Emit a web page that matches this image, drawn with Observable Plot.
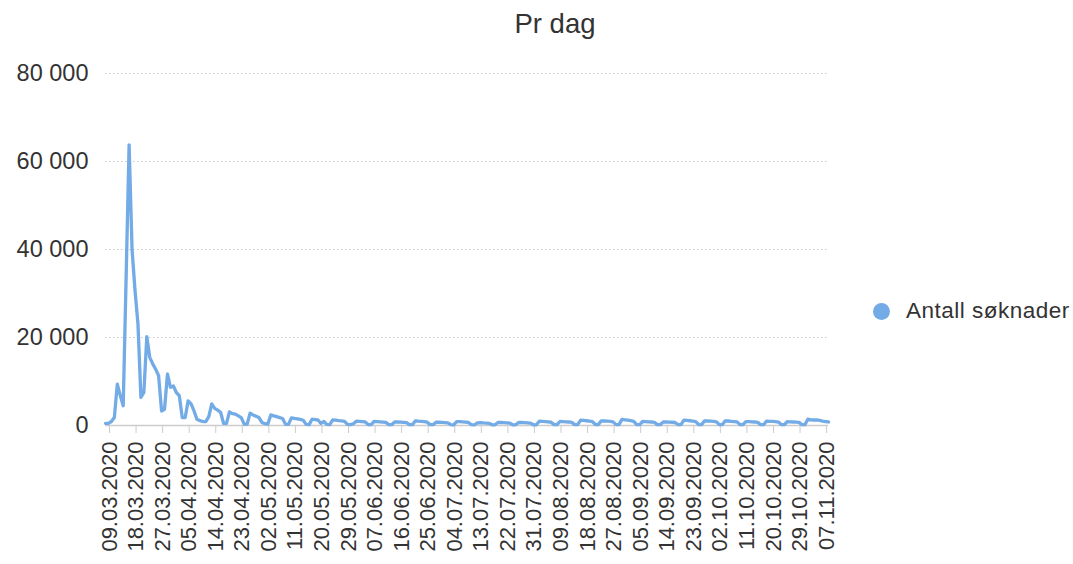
<!DOCTYPE html>
<html>
<head>
<meta charset="utf-8">
<script src="https://cdn.jsdelivr.net/npm/d3@7"></script>
<script src="https://cdn.jsdelivr.net/npm/@observablehq/plot@0.6"></script>
<style>
  html, body { margin: 0; padding: 0; background: #fff; }
  #wrap { position: relative; width: 1073px; height: 564px; font-family: "Liberation Sans", Arial, sans-serif; color: #333; }
  #title { position: absolute; top: 8px; left: 555px; transform: translateX(-50%); font-size: 27.5px; color: #333; white-space: nowrap; }
  #legend { position: absolute; left: 873px; top: 298px; display: flex; align-items: center; font-size: 22.5px; letter-spacing: 0.5px; color: #333; white-space: nowrap; }
  #legend .dot { width: 17px; height: 17px; border-radius: 50%; margin-right: 16px; }
  #chart { position: absolute; left: 0; top: 0; }
</style>
</head>
<body>
<div id="wrap">
  <div id="chart"></div>
  <div id="title"></div>
  <div id="legend"></div>
</div>
<script>
const titleText = "Pr dag";
const seriesName = "Antall søknader";
const seriesColor = "#72abe6";
const startDate = "09.03.2020";

// daily values from 09.03.2020
const values = [
  500, 500, 900, 1800, 9400, 6800, 4500,
  34000, 63800, 40000, 30700, 23100, 6400, 7500,
  20200, 15500, 14000, 12800, 11300, 3300, 3700,
  11700, 8700, 9000, 7500, 6800, 1800, 1800,
  5600, 4900, 3300, 1400, 1100, 900, 900,
  2000, 4900, 3900, 3500, 3000, 500, 500,
  3100, 2700, 2600, 2200, 1800, 300, 300,
  2800, 2400, 2100, 1800, 700, 400, 300,
  2400, 2200, 2000, 1800, 1600, 300, 250,
  1740, 1600, 1500, 1400, 1200, 250, 200,
  1440, 1350, 1250, 500, 900, 250, 200,
  1290, 1200, 1100, 1050, 950, 250, 200,
  400, 985, 950, 880, 800, 220, 200,
  910, 880, 840, 780, 700, 200, 180,
  830, 800, 780, 720, 650, 200, 180,
  1060, 980, 920, 860, 760, 200, 180,
  760, 740, 700, 660, 600, 180, 160,
  900, 860, 820, 760, 680, 180, 160,
  600, 620, 580, 560, 500, 160, 150,
  700, 680, 640, 600, 540, 170, 150,
  700, 680, 650, 600, 540, 170, 150,
  985, 940, 880, 820, 740, 200, 180,
  910, 880, 840, 800, 720, 200, 180,
  1210, 1150, 1080, 1000, 900, 220, 200,
  1060, 1020, 980, 920, 820, 200, 180,
  1400, 1300, 1200, 1100, 950, 220, 200,
  910, 880, 840, 800, 720, 200, 180,
  830, 800, 780, 740, 680, 200, 180,
  1210, 1150, 1080, 1000, 900, 220, 200,
  1060, 1020, 980, 920, 840, 200, 180,
  1060, 1020, 960, 900, 820, 200, 180,
  900, 880, 840, 800, 720, 200, 180,
  1000, 960, 920, 860, 780, 200, 180,
  850, 830, 800, 760, 700, 200, 180,
  1440, 1300, 1250, 1300, 1150, 1000, 900, 800
];

const xTickLabels = [
  "09.03.2020", "18.03.2020", "27.03.2020", "05.04.2020", "14.04.2020", "23.04.2020",
  "02.05.2020", "11.05.2020", "20.05.2020", "29.05.2020", "07.06.2020", "16.06.2020",
  "25.06.2020", "04.07.2020", "13.07.2020", "22.07.2020", "31.07.2020", "09.08.2020",
  "18.08.2020", "27.08.2020", "05.09.2020", "14.09.2020", "23.09.2020", "02.10.2020",
  "11.10.2020", "20.10.2020", "29.10.2020", "07.11.2020"
];
const yTicks = [0, 20000, 40000, 60000, 80000];

const parse = d3.utcParse("%d.%m.%Y");
const fmt = d3.utcFormat("%d.%m.%Y");
const start = parse(startDate);
const data = values.map((v, i) => ({date: d3.utcDay.offset(start, i), value: v}));
const xTicks = xTickLabels.map(parse);
const yFmt = d => d3.format(",")(d).replace(/,/g, " ");

const chart = Plot.plot({
  width: 1073,
  height: 564,
  marginLeft: 105,
  marginRight: 245,
  marginTop: 73,
  marginBottom: 139,
  style: {fontFamily: '"Liberation Sans", Arial, sans-serif', color: "#333", background: "transparent"},
  x: {type: "utc", domain: [data[0].date, data[data.length - 1].date]},
  y: {domain: [0, 80000]},
  marks: [
    Plot.gridY(yTicks.filter(d => d > 0), {stroke: "#c8c8c8", strokeOpacity: 1, strokeDasharray: "1.5,2.5", strokeWidth: 1}),
    Plot.axisY({ticks: yTicks, tickFormat: yFmt, tickSize: 0, tickPadding: 17, fontSize: 23.5, label: null, fill: "#333"}),
    Plot.ruleY([0], {stroke: "#cccccc", strokeWidth: 1.5}),
    Plot.axisX({ticks: xTicks, tickFormat: fmt, tickRotate: -90, tickSize: 8, tickPadding: 8, fontSize: 22, label: null, stroke: "#cccccc", fill: "#333", dx: 4, style: {letterSpacing: "0.7px"}}),
    Plot.line(data, {x: "date", y: "value", stroke: seriesColor, strokeWidth: 3.3, strokeLinejoin: "round"})
  ]
});
document.getElementById("chart").appendChild(chart);
document.getElementById("title").textContent = titleText;
const legend = document.getElementById("legend");
const dot = document.createElement("span");
dot.className = "dot";
dot.style.background = seriesColor;
legend.appendChild(dot);
const lab = document.createElement("span");
lab.textContent = seriesName;
legend.appendChild(lab);
</script>
</body>
</html>
